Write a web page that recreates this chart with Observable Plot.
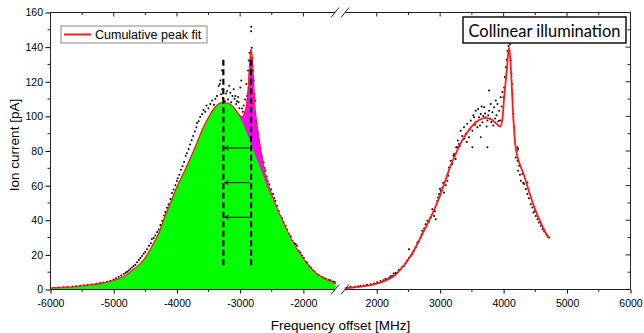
<!DOCTYPE html>
<html><head><meta charset="utf-8">
<script src="https://cdn.jsdelivr.net/npm/d3@7"></script>
<script src="https://cdn.jsdelivr.net/npm/@observablehq/plot@0.6"></script>
<style>
html,body{margin:0;padding:0;background:#fff;}
#chart{position:relative;width:644px;height:333px;}
#chart svg{position:absolute;left:0;top:0;}
</style></head><body><div id="chart"></div>
<script>
// ---------- data ----------
const xTicksLeft = [-6000,-5000,-4000,-3000,-2000];
const xTicksRight = [2000,3000,4000,5000,6000];
const xMinorLeft = [-5500,-4500,-3500,-2500];
const xMinorRight = [2500,3500,4500,5500];
const yTicks = [0,20,40,60,80,100,120,140,160];
const yMinor = [10,30,50,70,90,110,130,150];
const xDomainLeft = [-6000,-1500];
const xDomainRight = [1500,6000];
const yDomain = [0,160];

// broad component (green)
const greenX = [-6000,-5800,-5600,-5400,-5200,-5000,-4900,-4800,-4700,-4600,-4500,-4400,-4300,-4200,-4100,-4000,-3900,-3800,-3700,-3600,-3500,-3400,-3300,-3265,-3200,-3100,-3000,-2900,-2800,-2700,-2600,-2500,-2400,-2300,-2200,-2100,-2000,-1900,-1800,-1700,-1600,-1500];
const greenY = [0.8,1.1,1.6,2.3,3.3,4.9,6.3,8.3,11,14,18.5,25,32,42,51,60,67.5,75.5,84,93,100,105.5,108,108,107.7,104.5,99,91,81,72,62,53,44.5,36.5,29,22.5,17,12.5,9,6.5,4.8,3.5];

// cumulative peak fit, left part
const fitLX = [-6000,-5800,-5600,-5400,-5200,-5000,-4900,-4800,-4700,-4600,-4500,-4400,-4300,-4200,-4100,-4000,-3900,-3800,-3700,-3600,-3500,-3400,-3300,-3265,-3200,-3100,-3050,-3000,-2970,-2940,-2910,-2880,-2860,-2845,-2835,-2825,-2810,-2790,-2770,-2740,-2700,-2660,-2620,-2580,-2500,-2400,-2300,-2200,-2100,-2000,-1900,-1800,-1700,-1600,-1500];
const fitLY = [1.2,1.5,2.0,2.8,3.9,5.6,7.0,9.0,11.8,14.8,19.2,25.5,32.5,42.3,51.2,60.2,67.7,75.7,84.2,93.2,100.2,105.7,108.2,108.2,108,105,102.5,100.3,99.8,102,106,116,128,136,139,137,130,116,104,95,85,76,68,63,54,45,37,29.5,23,17.5,13,9.5,7,5.2,3.8];
const narrowRange = [-3150,-2450];

// cumulative peak fit, right part
const fitRX = [1500,1700,1947,2100,2263,2370,2474,2580,2684,2842,3000,3100,3158,3230,3289,3400,3500,3600,3700,3800,3880,3937,3970,4000,4042,4079,4110,4140,4170,4200,4250,4315,4400,4473,4600,4694];
const fitRY = [1,1.8,3.3,5,8.1,12,16.8,23,30.3,41.9,55.4,66,72,78,83,90,95,98,99.4,98.5,96,94.4,98,111,127,140.3,126,103,86,78.5,72.5,66,56,48,37,30.3];

// measured points
const scatterLeft = [[-5950,1.3],[-5880,1.5],[-5800,1.6],[-5740,1.8],[-5660,2.0],[-5600,2.2],[-5540,2.4],[-5480,2.7],[-5420,3.0],[-5360,3.2],[-5326,2.9],[-5280,3.6],[-5220,4.0],[-5170,4.4],[-5114,4.8],[-5060,5.4],[-5010,6.0],[-4970,6.8],[-4930,7.6],[-4890,8.4],[-4850,9.2],[-4820,9.9],[-4797,10.5],[-4770,11.3],[-4745,12.2],[-4720,13.0],[-4693,13.8],[-4665,14.6],[-4640,16.0],[-4610,17.4],[-4587,18.5],[-4560,19.6],[-4535,21.0],[-4510,22.0],[-4480,23.5],[-4450,25.5],[-4420,27.0],[-4404,29.5],[-4376,30.0],[-4350,31.5],[-4320,33.5],[-4297,35.0],[-4270,37.5],[-4240,40.0],[-4210,43.0],[-4190,45.0],[-4165,47.5],[-4140,49.5],[-4110,52.5],[-4085,56.0],[-4060,58.0],[-4033,60.5],[-4010,63.0],[-3997,64.5],[-3970,66.5],[-3945,69.5],[-3920,71.5],[-3895,74.0],[-3870,77.5],[-3850,79.0],[-3823,81.5],[-3800,84.0],[-3775,86.5],[-3750,89.0],[-3725,91.5],[-3700,94.0],[-3690,96.5],[-3664,97.5],[-3640,100.0],[-3610,101.5],[-3586,104.0],[-3560,103.0],[-3540,106.5],[-3510,105.0],[-3480,107.5],[-3450,109.5],[-3420,107.0],[-3400,110.5],[-3375,112.0],[-3348,118.0],[-3330,119.0],[-3321,121.0],[-3310,113.0],[-3295,126.8],[-3290,116.0],[-3280,111.0],[-3250,109.0],[-3230,113.5],[-3215,115.0],[-3200,110.0],[-3180,118.0],[-3163,114.0],[-3150,108.5],[-3130,112.0],[-3110,116.0],[-3095,110.5],[-3084,112.0],[-3070,107.5],[-3058,109.0],[-3040,111.5],[-3032,108.5],[-3020,105.0],[-3005,117.0],[-2990,121.0],[-2978,104.8],[-2965,103.0],[-2953,106.5],[-2930,110.0],[-2910,119.0],[-2899,112.0],[-2883,126.8],[-2873,132.6],[-2860,137.0],[-2845,130.0],[-2835,149.5],[-2833,152.0],[-2825,140.0],[-2815,134.0],[-2804,126.8],[-2794,121.0],[-2780,113.0],[-2767,109.4],[-2750,96.0],[-2730,91.0],[-2715,87.0],[-2700,80.0],[-2688,82.0],[-2660,77.0],[-2636,73.7],[-2620,70.5],[-2609,69.0],[-2590,65.5],[-2573,63.0],[-2550,61.0],[-2520,58.0],[-2490,55.5],[-2470,53.0],[-2451,51.5],[-2424,48.6],[-2399,45.7],[-2373,42.8],[-2345,41.5],[-2320,39.0],[-2290,37.0],[-2268,35.0],[-2240,32.5],[-2210,31.0],[-2180,28.5],[-2150,27.0],[-2130,26.5],[-2108,25.5],[-2082,22.6],[-2055,21.6],[-2030,20.0],[-2000,18.5],[-1970,16.5],[-1950,15.8],[-1920,14.0],[-1890,13.0],[-1860,11.5],[-1830,10.5],[-1791,9.1],[-1760,8.5],[-1720,7.6],[-1687,7.1],[-1650,6.3],[-1610,5.8],[-1580,5.6],[-1540,4.9],[-1510,4.5]];

const scatterRight = [[1520,1.0],[1579,1.9],[1640,1.8],[1700,2.1],[1737,2.3],[1790,2.6],[1840,3.0],[1895,3.3],[1950,3.8],[2000,4.5],[2053,5.2],[2100,5.6],[2130,6.4],[2158,6.2],[2190,7.2],[2215,7.9],[2237,8.1],[2260,9.5],[2290,9.8],[2316,10.0],[2340,11.5],[2368,12.0],[2395,13.5],[2421,13.9],[2445,15.5],[2470,17.0],[2500,18.7],[2500,23.6],[2530,19.8],[2553,20.7],[2580,22.5],[2605,24.5],[2632,27.4],[2660,28.5],[2684,30.3],[2700,32.0],[2711,34.2],[2740,35.5],[2763,38.0],[2790,40.0],[2815,39.5],[2842,41.9],[2868,46.7],[2895,42.8],[2910,45.5],[2921,40.9],[2947,51.5],[2960,53.5],[2974,55.4],[2990,58.5],[3000,57.3],[3026,59.2],[3040,62.0],[3053,56.3],[3080,60.5],[3105,63.1],[3120,66.0],[3132,70.8],[3158,74.7],[3184,72.8],[3200,77.5],[3211,78.6],[3237,75.7],[3245,82.4],[3263,82.4],[3270,86.3],[3289,84.4],[3300,83.0],[3316,92.0],[3340,89.0],[3368,94.0],[3368,87.3],[3395,90.2],[3410,85.5],[3421,96.0],[3447,88.2],[3460,93.0],[3474,97.9],[3500,92.0],[3500,82.4],[3515,101.0],[3526,99.8],[3540,95.5],[3553,103.6],[3565,97.0],[3579,94.0],[3590,104.5],[3605,99.8],[3620,95.0],[3632,101.7],[3632,88.2],[3645,106.0],[3658,96.9],[3670,100.5],[3684,105.6],[3700,102.0],[3711,99.8],[3725,94.5],[3737,97.9],[3737,82.4],[3750,101.0],[3763,103.6],[3763,115.2],[3775,99.0],[3789,107.5],[3800,97.0],[3816,102.7],[3830,95.0],[3842,105.6],[3855,99.0],[3868,109.4],[3880,101.0],[3895,107.5],[3910,97.5],[3921,103.6],[3937,97.9],[3947,111.4],[3960,106.0],[3974,114.3],[3989,111.4],[4000,117.0],[4011,123.0],[4026,128.7],[4040,133.0],[4053,138.0],[4070,141.0],[4079,145.0],[4095,142.0],[4105,132.6],[4116,125.0],[4125,119.0],[4132,113.3],[4147,101.7],[4158,94.0],[4168,86.3],[4184,76.6],[4200,80.5],[4211,82.4],[4211,74.7],[4221,81.5],[4221,68.9],[4237,71.8],[4250,66.5],[4263,63.1],[4289,67.0],[4300,62.0],[4316,61.2],[4342,58.3],[4368,62.1],[4368,55.4],[4390,53.0],[4421,49.6],[4447,47.7],[4463,44.8],[4480,45.5],[4500,42.8],[4526,40.9],[4550,39.0],[4579,37.1],[4605,35.1],[4632,33.8],[4660,32.5],[4684,31.3],[4711,30.3]];

// annotations
const peakCentres = [-3274,-2835];
const dashSpan = [14,133];
const arrowLevels = [82,62,42];
const legendLabel = "Cumulative peak fit";
const boxLabel = "Collinear illumination";
const xLabel = "Frequency offset [MHz]";
const yLabel = "Ion current [pA]";

// ---------- build ----------
const W = 644, H = 333;
const mL = 50.5, mR = 13.5, mT = 12.5, mB = 43.5;
const gapL = 335, gapR = 345;
const FONT = "'Liberation Sans', Arial, sans-serif";
const RED = "#ff1a1a";

const green = greenX.map((x,i) => ({x, y: greenY[i]}));
const fitL = fitLX.map((x,i) => ({x, y: fitLY[i]}));
const fitR = fitRX.map((x,i) => ({x, y: fitRY[i]}));
const narrow = fitL.filter(d => d.x >= narrowRange[0] && d.x <= narrowRange[1]);
const ptsL = scatterLeft.map(([x,y]) => ({x,y}));
const ptsR = scatterRight.map(([x,y]) => ({x,y}));

const common = {
  width: W, height: H, marginTop: mT, marginBottom: mB,
  style: {fontFamily: FONT, fontSize: "10.5px", color: "#000", background: "transparent", overflow: "visible"},
  y: {domain: yDomain, ticks: yTicks, tickSize: 5, tickPadding: 3, tickFormat: d => String(d), label: null}
};

const plotL = Plot.plot({
  ...common,
  marginLeft: mL, marginRight: W - gapL,
  x: {domain: xDomainLeft, ticks: xTicksLeft, tickSize: 4, tickPadding: 5.5, tickFormat: d => String(d), label: null},
  marks: [
    Plot.dot(ptsL, {x: "x", y: "y", r: 1, fill: "#000", stroke: "none"}),
    Plot.areaY(narrow, {x: "x", y: "y", fill: "#ff00ff", curve: "monotone-x"}),
    Plot.areaY(green, {x: "x", y: "y", fill: "#00ff00", curve: "monotone-x"}),
    Plot.line(fitL, {x: "x", y: "y", stroke: RED, strokeWidth: 1.3, curve: "monotone-x"}),
    Plot.ruleX(peakCentres, {x: d => d, y1: () => dashSpan[0], y2: () => dashSpan[1], stroke: "#000", strokeWidth: 2.2, strokeDasharray: "6,3.5"}),
    Plot.arrow(arrowLevels, {x1: () => peakCentres[1], x2: () => peakCentres[0], y1: d => d, y2: d => d, stroke: "#000", strokeWidth: 1, headLength: 6, insetStart: 2, insetEnd: 1.5})
  ]
});

const plotR = Plot.plot({
  ...common,
  marginLeft: gapR, marginRight: mR,
  y: {...common.y, axis: null},
  x: {domain: xDomainRight, ticks: xTicksRight, tickSize: 4, tickPadding: 5.5, tickFormat: d => String(d), label: null},
  marks: [
    Plot.dot(ptsR, {x: "x", y: "y", r: 1, fill: "#000", stroke: "none"}),
    Plot.line(fitR, {x: "x", y: "y", stroke: RED, strokeWidth: 1.8, curve: "monotone-x"})
  ]
});

const chart = document.getElementById("chart");
chart.appendChild(plotL);
chart.appendChild(plotR);

// ---------- frame, mirrored/minor ticks, broken-axis marks, labels ----------
const toFn = s => s.apply ? (v => s.apply(v)) : d3.scaleLinear(s.domain, s.range);
const sxL = toFn(plotL.scale("x")), sxR = toFn(plotR.scale("x")), sy = toFn(plotL.scale("y"));
const svg = d3.select(plotR);
const AX = "#222";
const g = svg.append("g").attr("stroke", AX).attr("stroke-width", 1).attr("fill", "none");
const seg = (x1,y1,x2,y2) => g.append("line").attr("x1",x1).attr("y1",y1).attr("x2",x2).attr("y2",y2);
const fTop = sy(yDomain[1]), fBot = sy(yDomain[0]);
const fLeft = sxL(xDomainLeft[0]), fRight = sxR(xDomainRight[1]);
const bl = sxL(xDomainLeft[1]), br = sxR(xDomainRight[0]);
seg(fLeft, fTop, fLeft, fBot); seg(fRight, fTop, fRight, fBot);
seg(fLeft, fTop, bl, fTop); seg(br, fTop, fRight, fTop);
seg(fLeft, fBot, bl, fBot); seg(br, fBot, fRight, fBot);
for (const y of [fTop, fBot]) for (const x of [bl, br]) seg(x - 4, y + 5, x + 4, y - 5);
xMinorLeft.forEach(v => { seg(sxL(v), fBot, sxL(v), fBot + 2.5); seg(sxL(v), fTop, sxL(v), fTop + 2.5); });
xMinorRight.forEach(v => { seg(sxR(v), fBot, sxR(v), fBot + 2.5); seg(sxR(v), fTop, sxR(v), fTop + 2.5); });
xTicksLeft.forEach(v => seg(sxL(v), fTop, sxL(v), fTop + 4));
xTicksRight.forEach(v => seg(sxR(v), fTop, sxR(v), fTop + 4));
yMinor.forEach(v => seg(fLeft, sy(v), fLeft - 3, sy(v)));
yTicks.forEach(v => seg(fRight, sy(v), fRight - 5, sy(v)));
yMinor.forEach(v => seg(fRight, sy(v), fRight - 3, sy(v)));

// axis titles
svg.append("text").attr("transform", `translate(14,${(fTop + fBot) / 2 - 6}) rotate(-90)`)
  .attr("text-anchor", "middle").attr("dominant-baseline", "central")
  .attr("font-family", FONT).attr("font-size", 13.5).attr("fill", "#000").text(yLabel);
svg.append("text").attr("x", (fLeft + fRight) / 2).attr("y", 325)
  .attr("text-anchor", "middle").attr("dominant-baseline", "central")
  .attr("font-family", FONT).attr("font-size", 13.5).attr("fill", "#000").text(xLabel);

// legend
const lg = svg.append("g").attr("transform", `translate(${fLeft + 10.5},${fTop + 13.5})`);
lg.append("rect").attr("width", 146).attr("height", 17).attr("fill", "#fff").attr("stroke", "#888").attr("stroke-width", 1);
lg.append("line").attr("x1", 3).attr("x2", 30).attr("y1", 8.5).attr("y2", 8.5).attr("stroke", RED).attr("stroke-width", 2);
lg.append("text").attr("x", 34).attr("y", 8.5).attr("text-anchor", "start").attr("dominant-baseline", "central")
  .attr("font-family", FONT).attr("font-size", 12.5).attr("fill", "#000").text(legendLabel);

// annotation box
const bx = svg.append("g").attr("transform", `translate(${fRight - 167.5},${fTop + 4.5})`);
bx.append("rect").attr("width", 163).attr("height", 26).attr("fill", "#fff").attr("stroke", "#000").attr("stroke-width", 1.4);
bx.append("text").attr("x", 81.5).attr("y", 13.5).attr("text-anchor", "middle").attr("dominant-baseline", "central")
  .attr("font-family", "Lato, 'Open Sans', sans-serif").attr("font-size", 17).attr("fill", "#000")
  .attr("textLength", 152).attr("lengthAdjust", "spacingAndGlyphs").text(boxLabel);
</script>
</body></html>
